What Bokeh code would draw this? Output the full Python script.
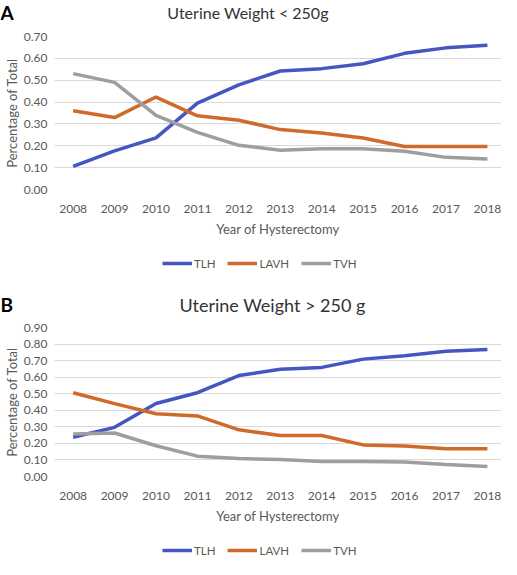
from bokeh.plotting import figure
from bokeh.layouts import column
from bokeh.models import Range1d, FixedTicker, PrintfTickFormatter, Legend, LegendItem, Label
from bokeh.embed import file_html
from bokeh.resources import INLINE

years = [2008, 2009, 2010, 2011, 2012, 2013, 2014, 2015, 2016, 2017, 2018]
series_names = ["TLH", "LAVH", "TVH"]

a_tlh = [0.106, 0.177, 0.236, 0.395, 0.479, 0.542, 0.553, 0.575, 0.623, 0.648, 0.660]
a_lavh = [0.360, 0.329, 0.423, 0.337, 0.317, 0.274, 0.258, 0.236, 0.197, 0.197, 0.197]
a_tvh = [0.530, 0.490, 0.339, 0.261, 0.202, 0.180, 0.186, 0.186, 0.175, 0.147, 0.139]

b_tlh = [0.237, 0.297, 0.441, 0.506, 0.610, 0.648, 0.659, 0.709, 0.729, 0.756, 0.767]
b_lavh = [0.506, 0.440, 0.379, 0.366, 0.282, 0.248, 0.248, 0.191, 0.184, 0.167, 0.167]
b_tvh = [0.256, 0.263, 0.186, 0.123, 0.108, 0.102, 0.091, 0.091, 0.087, 0.072, 0.061]

a_yticks = [0.0, 0.1, 0.2, 0.3, 0.4, 0.5, 0.6, 0.7]
b_yticks = [0.0, 0.1, 0.2, 0.3, 0.4, 0.5, 0.6, 0.7, 0.8, 0.9]

colors = ["#4656C0", "#D06A2A", "#9E9E9E"]
FONT = "Lato"
TXT = "#595959"
W = 501


def no_align(f):
    try:
        f.frame_align = False
    except Exception:
        pass
    return f


def blank(height):
    f = figure(width=W, height=height, output_backend="svg", toolbar_location=None,
               x_range=Range1d(0, W), y_range=Range1d(0, height),
               x_axis_type=None, y_axis_type=None, min_border=0)
    f.min_border_left = f.min_border_right = f.min_border_top = f.min_border_bottom = 0
    f.outline_line_color = None
    f.xgrid.grid_line_color = None
    f.ygrid.grid_line_color = None
    f.border_fill_color = "white"
    return no_align(f)


def header(letter, title, height, baseline_y, title_x, title_size):
    h = blank(height)
    h.add_layout(Label(x=0, y=baseline_y, text=letter, text_font=FONT, text_font_size="19px",
                       text_font_style="bold", text_color="black",
                       text_align="left", text_baseline="alphabetic"))
    h.add_layout(Label(x=title_x, y=baseline_y, text=title, text_font=FONT,
                       text_font_size=title_size, text_color="#333333",
                       text_align="center", text_baseline="alphabetic"))
    return h


def legend_fig(height, y, series):
    g = blank(height)
    items = []
    for name, vals, c in zip(series_names, series, colors):
        # same series as the chart; they fall outside this strip's range, only the legend shows
        r = g.line(years, vals, line_color=c, line_width=3.5)
        items.append(LegendItem(label=name, renderers=[r]))
    leg = Legend(items=items, orientation="horizontal", location=(162, y))
    leg.glyph_width = 30
    leg.glyph_height = 14
    leg.label_standoff = 2
    leg.spacing = 12
    leg.padding = 0
    leg.margin = 0
    leg.border_line_color = None
    leg.background_fill_alpha = 0
    leg.label_text_font = FONT
    leg.label_text_font_size = "11.5px"
    leg.label_text_color = TXT
    leg.label_height = 14
    g.add_layout(leg)
    return g


def chart(series, yticks, ymax, height, top, bottom):
    p = figure(width=W, height=height, output_backend="svg", toolbar_location=None,
               x_range=Range1d(2007.55, 2018.34), y_range=Range1d(0, ymax),
               min_border_left=46, min_border_right=0, min_border_top=top,
               min_border_bottom=bottom)
    p.outline_line_color = None
    p.border_fill_color = "white"
    p.xgrid.grid_line_color = None
    p.ygrid.grid_line_color = "#D9D9D9"
    p.ygrid.grid_line_width = 1
    p.yaxis.ticker = FixedTicker(ticks=yticks)
    p.xaxis.ticker = FixedTicker(ticks=years)
    p.yaxis.formatter = PrintfTickFormatter(format="%.2f")
    for ax in (p.xaxis[0], p.yaxis[0]):
        ax.axis_line_color = None
        ax.major_tick_line_color = None
        ax.minor_tick_line_color = None
        ax.major_tick_out = 0
        ax.major_tick_in = 0
        ax.major_label_text_font = FONT
        ax.major_label_text_font_size = "12px"
        ax.major_label_text_color = TXT
        ax.axis_label_text_font = FONT
        ax.axis_label_text_font_size = "13px"
        ax.axis_label_text_font_style = "normal"
        ax.axis_label_text_color = TXT
    p.xaxis.axis_label = "Year of Hysterectomy"
    p.xaxis.major_label_standoff = 15
    p.xaxis.axis_label_standoff = 5
    p.yaxis.axis_label = "Percentage of Total"
    p.yaxis.major_label_standoff = 7
    p.yaxis.axis_label_standoff = 1
    for vals, c in zip(series, colors):
        p.line(years, vals, line_color=c, line_width=3.5)
    return no_align(p)


A = [a_tlh, a_lavh, a_tvh]
B = [b_tlh, b_lavh, b_tvh]
ha = header("A", "Uterine Weight < 250g", 29, 17, 247.5, "16px")
ca = chart(A, a_yticks, 0.70, 210, 7, 50)
la = legend_fig(33, 2, A)
hb = header("B", "Uterine Weight > 250 g", 44, 12, 272, "18px")
cb = chart(B, b_yticks, 0.90, 210, 11, 50)
lb = legend_fig(33, 2, B)

layout = column(ha, ca, la, hb, cb, lb, spacing=0)
open("out.html", "w").write(file_html(layout, INLINE))
